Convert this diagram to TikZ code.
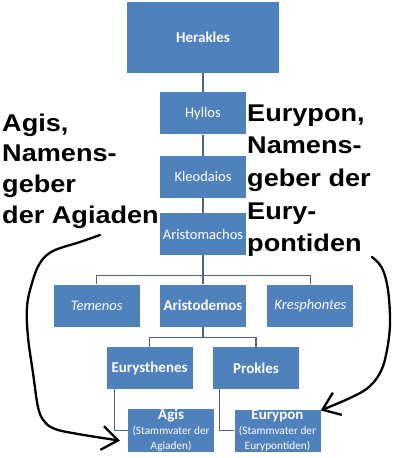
\documentclass[tikz,border=0pt]{standalone}
\usepackage{fontspec}
\setmainfont{Carlito}
\newfontfamily\notefont[FakeStretch=1.12]{Liberation Sans}
\usetikzlibrary{arrows.meta,positioning,calc}
\definecolor{boxblue}{HTML}{4F81BD}
\definecolor{linkgray}{HTML}{50647D}

\begin{document}
\begin{tikzpicture}[
      x=1pt,y=-1pt,
      node distance=20pt,
      box/.style={fill=boxblue,text=white,align=center,inner sep=0pt,
                  minimum width=86pt,minimum height=42pt,
                  font=\fontsize{14.5}{16}\selectfont},
      boldbox/.style={box,font=\bfseries\fontsize{15}{17}\selectfont},
      italbox/.style={box,font=\itshape\fontsize{14.5}{16}\selectfont},
      smallbox/.style={box,font=\fontsize{11.3}{15}\selectfont},
      link/.style={draw=linkgray,line width=1.1pt},
      note/.style={font=\notefont\bfseries\fontsize{24.2}{#1}\selectfont,
                   align=left,inner sep=0pt,anchor=north west},
      note/.default=30.7,
      hand/.style={line width=2.3pt,line cap=round,line join=round,
                   -{Straight Barb[length=16pt,width=24pt]}},
    ]
  \useasboundingbox (0,0) rectangle (400,458);

  % family tree
  \node[boldbox,minimum width=152pt,minimum height=71pt] (herakles) at (203,37.5) {Herakles};
  \node[box,below=19pt of herakles]     (hyllos)       {Hyllos};
  \node[box,below=21pt of hyllos]       (kleodaios)    {Kleodaios};
  \node[box,below=15pt of kleodaios]    (aristomachos) {Aristomachos};
  \node[boldbox,below=29pt of aristomachos] (aristodemos) {Aristodemos};
  \node[italbox,left=of aristodemos]    (temenos)      {Temenos};
  \node[italbox,right=21pt of aristodemos] (kresphontes) {Kresphontes};
  \node[boldbox,below left=20pt and -33pt of aristodemos] (eurysthenes) {Eurysthenes};
  \node[boldbox,right=of eurysthenes]   (prokles)      {Prokles};
  \node[smallbox,below=20pt of eurysthenes,xshift=21.5pt] (agis)
       {{\bfseries\fontsize{15}{15}\selectfont Agis}\\(Stammvater der\\Agiaden)};
  \node[smallbox,right=of agis]         (eurypon)
       {{\bfseries\fontsize{15}{15}\selectfont Eurypon}\\(Stammvater der\\Eurypontiden)};

  \draw[link] (herakles) -- (hyllos);
  \draw[link] (hyllos) -- (kleodaios);
  \draw[link] (kleodaios) -- (aristomachos);
  \draw[link] (aristomachos) -- (aristodemos);
  \draw[link] (temenos.north) |- ($(aristomachos.south)+(0,20)$) -| (kresphontes.north);
  \draw[link] (aristodemos.south) -- ++(0,11);
  \draw[link] (eurysthenes.north) |- ($(aristodemos.south)+(0,11)$) -| (prokles.north);
  \draw[link] ([xshift=8pt]eurysthenes.south west) |- (agis.west);
  \draw[link] ([xshift=7pt]prokles.south west) |- (eurypon.west);

  % notes
  \node[note] (agisnote) at (2,113.5) {Agis,\\Namens-\\geber\\der Agiaden};
  \node[note=32.6] (eurynote) at (247,104.5) {Eurypon,\\Namens-\\geber der\\Eury-\\pontiden};

  \coordinate (agistail)  at (100,235);
  \coordinate (eurytail)  at (372,257);
  \draw[hand] plot[smooth,tension=0.6] coordinates {(agistail) (80,242) (53,251) (40,263)
      (32,283) (27,307) (28,337) (33,373) (38,407) (44,421) (55,429) (78,434)
      ([shift={(-8,10)}]agis.west)};
  \draw[hand] plot[smooth,tension=0.6] coordinates {(eurytail) (382,268) (388,290)
      (390,323) (387,350) (381,371) (369,387) (350,398) ([yshift=-1pt]eurypon.north east)};
\end{tikzpicture}
\end{document}
